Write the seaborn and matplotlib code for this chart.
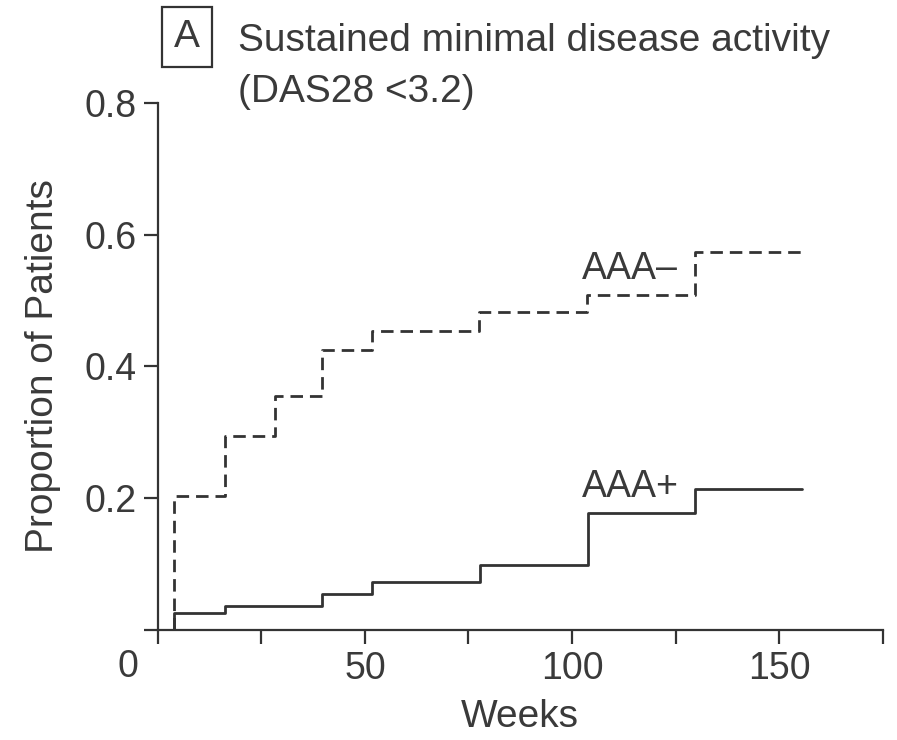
import pandas as pd
import matplotlib.pyplot as plt
import seaborn as sns

# Step curves (weeks, cumulative proportion)
weeks_neg = [4, 4, 16.3, 28.3, 39.7, 51.8, 77.6, 103.6, 129.6, 155.5]
prop_neg = [0, 0.203, 0.294, 0.355, 0.424, 0.453, 0.483, 0.508, 0.573, 0.573]

weeks_pos = [4, 4, 16.2, 39.6, 51.8, 77.8, 103.8, 129.6, 155.5]
prop_pos = [0, 0.026, 0.036, 0.055, 0.073, 0.098, 0.178, 0.214, 0.214]

x_ticks = [0, 25, 50, 75, 100, 125, 150, 175]
x_tick_labels = ['', '', '50', '', '100', '', '150', '']
y_ticks = [0, 0.2, 0.4, 0.6, 0.8]
y_tick_labels = ['', '0.2', '0.4', '0.6', '0.8']

ink = '#333333'
text_ink = '#3a3a3a'

sns.set_style('ticks')
plt.rcParams['font.family'] = ['Liberation Sans', 'DejaVu Sans']

df_neg = pd.DataFrame({'Weeks': weeks_neg, 'Proportion': prop_neg})
df_pos = pd.DataFrame({'Weeks': weeks_pos, 'Proportion': prop_pos})

fig = plt.figure(figsize=(8.97, 7.40), dpi=100)
ax = fig.add_axes([0.176, 0.149, 0.808, 0.712])

sns.lineplot(data=df_neg, x='Weeks', y='Proportion', estimator=None, sort=False,
             drawstyle='steps-post', color=ink, linewidth=2, linestyle=(0, (4.5, 2.5)), ax=ax)
sns.lineplot(data=df_pos, x='Weeks', y='Proportion', estimator=None, sort=False,
             drawstyle='steps-post', color=ink, linewidth=2, ax=ax)

ax.set_xlim(0, 175)
ax.set_ylim(0, 0.8)
ax.set_xticks(x_ticks)
ax.set_xticklabels(x_tick_labels)
ax.set_yticks(y_ticks)
ax.set_yticklabels(y_tick_labels)
ax.tick_params(direction='out', length=10, width=1.6, color=ink, labelsize=27,
               labelcolor=text_ink, pad=5)
for side in ['top', 'right']:
    ax.spines[side].set_visible(False)
for side in ['left', 'bottom']:
    ax.spines[side].set_linewidth(1.6)
    ax.spines[side].set_color(ink)

ax.set_xlabel('Weeks', fontsize=28, color=text_ink, labelpad=9)
ax.set_ylabel('Proportion of Patients', fontsize=28, color=text_ink, labelpad=17)

# origin label sits below-left of the corner
fig.text(128 / 897, 1 - 667 / 740, '0', fontsize=27, color=text_ink, ha='center', va='center')

# curve labels
ax.text(102.5, 0.532, 'AAA\u2013', fontsize=27, color=text_ink, ha='left', va='baseline')
ax.text(102.5, 0.202, 'AAA+', fontsize=27, color=text_ink, ha='left', va='baseline')

# panel title
fig.text(187 / 897, 1 - 37 / 740, 'A', fontsize=28, color=text_ink, ha='center', va='center',
         bbox=dict(boxstyle='square,pad=0.3', facecolor='white', edgecolor=ink, linewidth=1.6))
fig.text(238 / 897, 1 - 51 / 740, 'Sustained minimal disease activity', fontsize=28,
         color=text_ink, ha='left', va='baseline')
fig.text(238 / 897, 1 - 102 / 740, '(DAS28 <3.2)', fontsize=28,
         color=text_ink, ha='left', va='baseline')

fig.savefig('out.png', dpi=100)
